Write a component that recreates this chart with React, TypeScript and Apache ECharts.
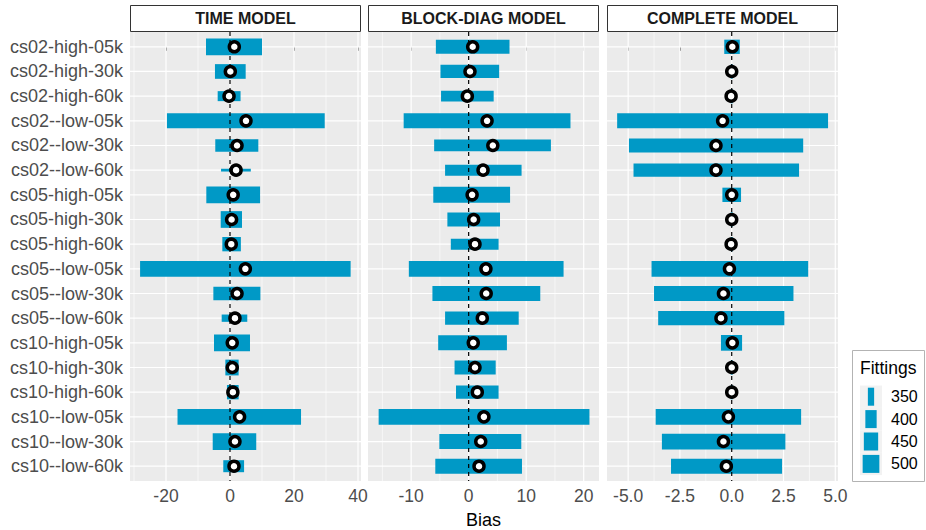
import React, { useEffect, useRef } from 'react';
import * as echarts from 'echarts';

const categories = [
  'cs02-high-05k', 'cs02-high-30k', 'cs02-high-60k', 'cs02--low-05k', 'cs02--low-30k', 'cs02--low-60k',
  'cs05-high-05k', 'cs05-high-30k', 'cs05-high-60k', 'cs05--low-05k', 'cs05--low-30k', 'cs05--low-60k',
  'cs10-high-05k', 'cs10-high-30k', 'cs10-high-60k', 'cs10--low-05k', 'cs10--low-30k', 'cs10--low-60k',
];

const timeLower = [-7.5, -4.7, -3.85, -19.7, -4.6, -2.8, -7.4, -2.9, -2.4, -28.1, -5.2, -2.6, -5.0, -1.45, -0.95, -16.4, -5.4, -2.1];
const timeUpper = [10.0, 4.9, 3.3, 29.6, 8.85, 6.5, 9.4, 3.75, 3.4, 37.7, 9.5, 5.4, 6.25, 2.7, 2.7, 22.2, 8.2, 4.4];
const timeBias = [1.35, 0.1, -0.3, 5.0, 2.2, 1.9, 1.0, 0.5, 0.4, 4.8, 2.2, 1.55, 0.7, 0.7, 0.9, 3.0, 1.55, 1.25];
const timeFittings = [500, 457, 383, 463, 415, 340, 500, 500, 450, 478, 431, 357, 500, 480, 450, 478, 500, 410];

const blockLower = [-5.7, -4.9, -4.8, -11.3, -6.0, -4.1, -6.15, -3.7, -3.1, -10.4, -6.3, -4.1, -5.3, -2.45, -2.2, -15.65, -5.1, -5.8];
const blockUpper = [7.1, 5.3, 4.35, 17.7, 14.3, 9.2, 7.2, 5.45, 5.2, 16.5, 12.45, 8.7, 6.65, 4.7, 5.2, 21.0, 9.15, 9.27];
const blockBias = [0.7, 0.23, -0.23, 3.2, 4.2, 2.5, 0.6, 0.87, 1.1, 3.0, 3.05, 2.37, 0.8, 1.1, 1.5, 2.65, 2.1, 1.8];
const blockFittings = [444, 431, 392, 463, 406, 396, 484, 444, 396, 478, 463, 431, 463, 444, 431, 478, 463, 463];

const completeLower = [-0.36, -0.05, -0.05, -5.53, -4.96, -4.74, -0.45, -0.05, -0.05, -3.87, -3.75, -3.55, -0.52, -0.05, -0.05, -3.67, -3.37, -2.93];
const completeUpper = [0.39, 0.05, 0.05, 4.65, 3.45, 3.25, 0.45, 0.05, 0.05, 3.69, 2.98, 2.54, 0.5, 0.05, 0.05, 3.35, 2.59, 2.43];
const completeBias = [0.03, 0.0, -0.03, -0.44, -0.76, -0.76, 0.0, 0.0, -0.03, -0.11, -0.4, -0.52, 0.03, 0.0, 0.0, -0.16, -0.4, -0.26];
const completeFittings = [450, 450, 450, 463, 444, 431, 450, 450, 450, 478, 463, 450, 478, 450, 450, 478, 478, 463];

const legendBreaks = [350, 400, 450, 500];

const panelTitles = ['TIME MODEL', 'BLOCK-DIAG MODEL', 'COMPLETE MODEL'];
const xMajor = [[-20, 0, 20, 40], [-10, 0, 10, 20], [-5, -2.5, 0, 2.5, 5]];
const xMinor = [[-30, -10, 10, 30], [-15, -5, 5, 15], [-3.75, -1.25, 1.25, 3.75]];
const xLimits = [[-31.25, 40.94], [-17.5, 22.66], [-6.02, 5.13]];
const xDigits = [0, 0, 1];

const BLUE = '#0099C6';
const FONT = '"Liberation Sans", Arial, Helvetica, sans-serif';
const GRID_LEFT = [130, 368, 607];
const GRID_W = 231;
const GRID_TOP = 32;
const GRID_H = 449;

const FIT_MIN = 340;
const FIT_MAX = 500;
function thickness(f: number): number {
  const q = Math.sqrt(Math.max(0, (f - FIT_MIN) / (FIT_MAX - FIT_MIN)));
  return (16.7 / 6) * (1 + 5 * q);
}

export default function App() {
  const ref = useRef<HTMLDivElement>(null);
  useEffect(() => {
    if (!ref.current) return;
    const chart = echarts.init(ref.current, undefined, { renderer: 'svg' });
    const panels = [
      { lower: timeLower, upper: timeUpper, bias: timeBias, fit: timeFittings },
      { lower: blockLower, upper: blockUpper, bias: blockBias, fit: blockFittings },
      { lower: completeLower, upper: completeUpper, bias: completeBias, fit: completeFittings },
    ];
    const grids: any[] = [];
    const xAxes: any[] = [];
    const yAxes: any[] = [];
    const series: any[] = [];
    const graphics: any[] = [];
    const yIdx = categories.map((_, i) => i);

    panels.forEach((p, k) => {
      grids.push({
        left: GRID_LEFT[k], top: GRID_TOP, width: GRID_W, height: GRID_H,
        show: true, backgroundColor: '#EBEBEB', borderWidth: 0, containLabel: false,
        outerBoundsMode: 'none',
      });
      const digits = xDigits[k];
      xAxes.push({
        type: 'value', gridIndex: k, min: xLimits[k][0], max: xLimits[k][1],
        axisLine: { show: false },
        axisTick: { show: true, customValues: xMajor[k], length: 4, lineStyle: { color: '#333333', width: 1 } },
        axisLabel: {
          show: true, customValues: xMajor[k], color: '#4D4D4D', fontSize: 17.5, fontFamily: FONT, margin: 6,
          formatter: (v: number) => v.toFixed(digits),
        },
        splitLine: { show: false },
      });
      yAxes.push({
        type: 'value', gridIndex: k, min: -0.6, max: 17.6, inverse: true,
        axisLine: { show: false },
        axisTick: { show: k === 0, customValues: yIdx, length: 4, lineStyle: { color: '#333333', width: 1 } },
        axisLabel: {
          show: k === 0, customValues: yIdx, color: '#4D4D4D', fontSize: 18, fontFamily: FONT, margin: 7,
          formatter: (v: number) => categories[Math.round(v)] ?? '',
        },
        splitLine: { show: false },
      });
      const xmin = xLimits[k][0];
      const gridData = xMajor[k].map((v) => [v, 0])
        .concat(xMinor[k].map((v) => [v, 1]))
        .concat(yIdx.map((i) => [i, 2]));
      series.push({
        type: 'custom', xAxisIndex: k, yAxisIndex: k, z: 1, silent: true,
        data: gridData,
        renderItem: (params: any, api: any) => {
          const cs = params.coordSys;
          const v = api.value(0);
          const kind = api.value(1);
          if (kind === 2) {
            const pt = api.coord([xmin, v]);
            return { type: 'line', shape: { x1: cs.x, y1: pt[1], x2: cs.x + cs.width, y2: pt[1] }, style: { stroke: '#FFFFFF', lineWidth: 1.2 } };
          }
          const pt = api.coord([v, 0]);
          return { type: 'line', shape: { x1: pt[0], y1: cs.y, x2: pt[0], y2: cs.y + cs.height }, style: { stroke: '#FFFFFF', lineWidth: kind === 0 ? 1.2 : 0.6 } };
        },
      });
      series.push({
        type: 'custom', xAxisIndex: k, yAxisIndex: k, z: 2, silent: true,
        encode: { x: [0, 1], y: 2 },
        data: p.lower.map((lo, i) => [lo, p.upper[i], i, p.fit[i]]),
        renderItem: (params: any, api: any) => {
          const a = api.coord([api.value(0), api.value(2)]);
          const b = api.coord([api.value(1), api.value(2)]);
          const h = thickness(api.value(3));
          return { type: 'rect', shape: { x: a[0], y: a[1] - h / 2, width: b[0] - a[0], height: h }, style: { fill: BLUE } };
        },
      });
      series.push({
        type: 'custom', xAxisIndex: k, yAxisIndex: k, z: 3, silent: true,
        data: [[0, 0]],
        renderItem: (params: any, api: any) => {
          const cs = params.coordSys;
          const pt = api.coord([0, 0]);
          return { type: 'line', shape: { x1: pt[0], y1: cs.y, x2: pt[0], y2: cs.y + cs.height }, style: { stroke: '#000000', lineWidth: 1.2, lineDash: [4, 4] } };
        },
      });
      series.push({
        type: 'scatter', xAxisIndex: k, yAxisIndex: k, z: 4, silent: true,
        symbol: 'circle', symbolSize: 10,
        itemStyle: { color: '#FFFFFF', borderColor: '#000000', borderWidth: 3.5, opacity: 1 },
        data: p.bias.map((b, i) => [b, i]),
      });
      graphics.push({
        type: 'rect', shape: { x: GRID_LEFT[k] + 0.5, y: 5.5, width: GRID_W - 1, height: 26 },
        style: { fill: '#FFFFFF', stroke: '#333333', lineWidth: 1 },
      });
      graphics.push({
        type: 'text', x: GRID_LEFT[k] + GRID_W / 2, y: 18.5,
        style: { text: panelTitles[k], fill: '#1A1A1A', font: `bold 16px ${FONT}`, align: 'center', verticalAlign: 'middle' },
      });
    });

    graphics.push({
      type: 'text', x: GRID_LEFT[1] + GRID_W / 2, y: 520,
      style: { text: 'Bias', fill: '#000000', font: `18px ${FONT}`, align: 'center', verticalAlign: 'middle' },
    });

    // legend
    const LX = 852.5, LY = 350.5;
    graphics.push({ type: 'rect', shape: { x: LX, y: LY, width: 72, height: 131 }, style: { fill: '#FFFFFF', stroke: '#B3B3B3', lineWidth: 1 } });
    graphics.push({ type: 'text', x: 860, y: 368, style: { text: 'Fittings', fill: '#000000', font: `17.5px ${FONT}`, align: 'left', verticalAlign: 'middle' } });
    legendBreaks.forEach((f, i) => {
      const cy = 396.7 + i * 22.4;
      graphics.push({ type: 'rect', shape: { x: 860, y: cy - 11.2, width: 22, height: 22.4 }, style: { fill: '#F2F2F2' } });
      const w = thickness(f);
      graphics.push({ type: 'rect', shape: { x: 871 - w / 2, y: cy - 9, width: w, height: 18 }, style: { fill: BLUE } });
      graphics.push({ type: 'text', x: 891, y: cy, style: { text: String(f), fill: '#000000', font: `16px ${FONT}`, align: 'left', verticalAlign: 'middle' } });
    });

    chart.setOption({
      animation: false,
      backgroundColor: '#FFFFFF',
      grid: grids,
      xAxis: xAxes,
      yAxis: yAxes,
      series,
      graphic: graphics,
    });
    return () => chart.dispose();
  }, []);
  return <div ref={ref} style={{ position: 'fixed', left: 0, top: 0, width: 926, height: 530 }} />;
}
